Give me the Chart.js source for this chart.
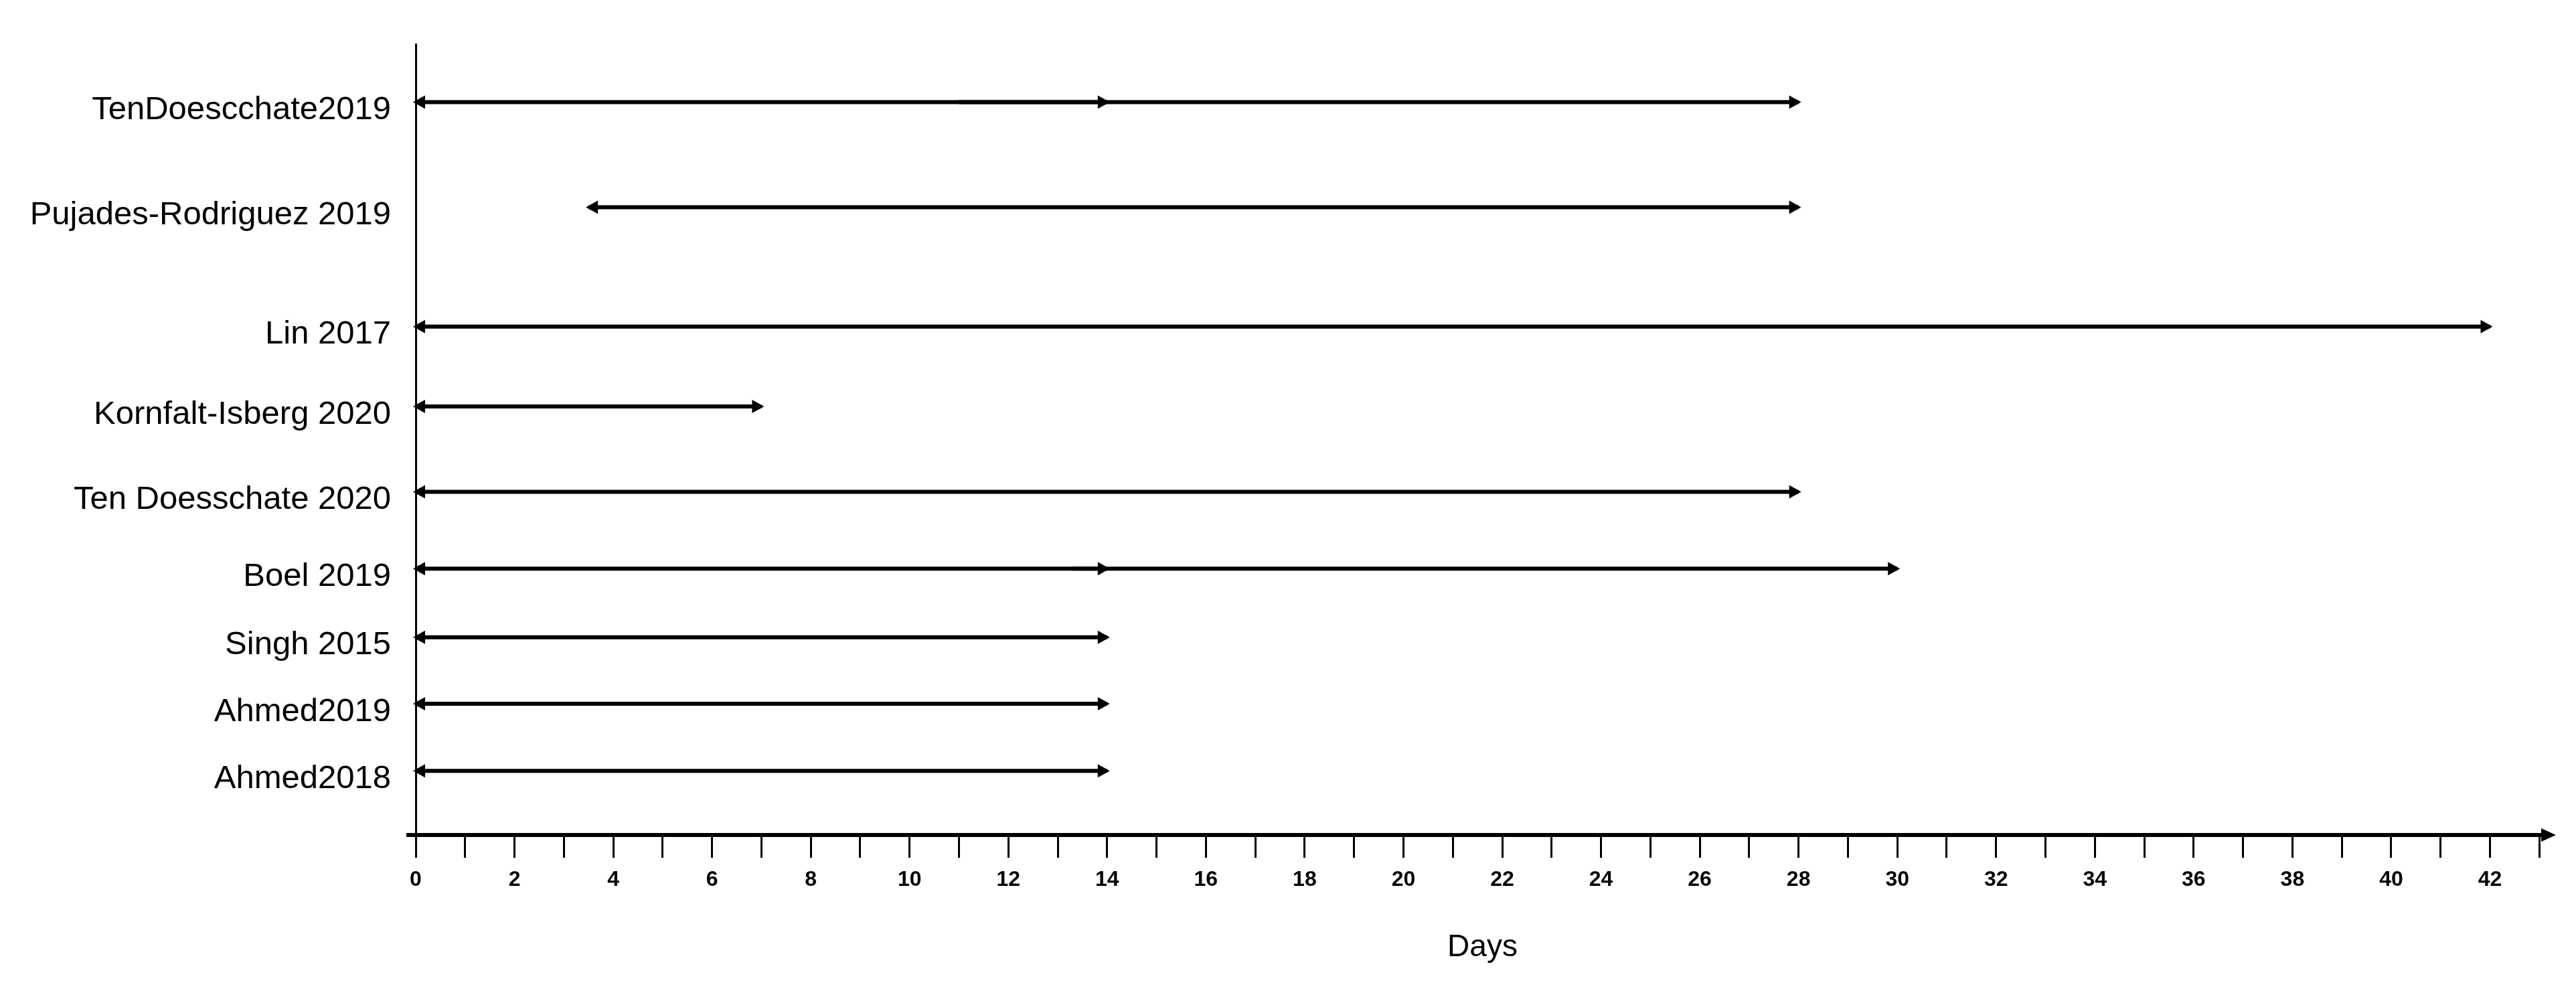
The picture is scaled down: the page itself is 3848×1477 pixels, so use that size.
<!DOCTYPE html>
<html>
<head>
<meta charset="utf-8">
<script src="https://cdn.jsdelivr.net/npm/chart.js@4"></script>
<style>
  html, body { margin: 0; padding: 0; background: #fff; }
  #wrap { width: 3848px; height: 1477px; }
</style>
</head>
<body>
<div id="wrap"><canvas id="chart" width="3848" height="1477"></canvas></div>
<script>
// study names, top to bottom
const studies = [
  "TenDoescchate2019", "Pujades-Rodriguez 2019", "Lin 2017", "Kornfalt-Isberg 2020",
  "Ten Doesschate 2020", "Boel 2019", "Singh 2015", "Ahmed2019", "Ahmed2018"
];
// vertical position of each row (rows are not evenly spaced in the original)
const rowPos = [9.27, 7.94, 6.43, 5.42, 4.34, 3.37, 2.50, 1.66, 0.81];

// follow-up windows in days: first window per study
const startDay = [0, 3.5, 0, 0, 0, 0, 0, 0, 0];
const endDay = [14, 28, 42, 7, 28, 14, 14, 14, 14];
// second (later) window, null when none
const start2 = [11, null, null, null, null, 13.3, null, null, null];
const end2 = [28, null, null, null, null, 30, null, null, null];

const xTicks = [0, 2, 4, 6, 8, 10, 12, 14, 16, 18, 20, 22, 24, 26, 28, 30, 32, 34, 36, 38, 40, 42];

/* =========================
   DATASETS
========================= */
const datasets = [];
studies.forEach((s, i) => {
  datasets.push({
    label: s,
    data: [{ x: startDay[i], y: rowPos[i] }, { x: endDay[i], y: rowPos[i] }],
    both: true,
  });
  if (start2[i] !== null) {
    datasets.push({
      label: s + " (2)",
      data: [{ x: start2[i], y: rowPos[i] }, { x: end2[i], y: rowPos[i] }],
      both: false,
    });
  }
});
datasets.forEach((d) => {
  d.borderColor = "#000";
  d.borderWidth = 6;
  d.pointRadius = 0;
  d.showLine = true;
});

/* =========================
   ARROWS
========================= */
function head(ctx, x, y, dir, len, half) {
  ctx.beginPath();
  ctx.moveTo(x, y);
  ctx.lineTo(x - dir * len, y - half);
  ctx.lineTo(x - dir * len, y + half);
  ctx.closePath();
  ctx.fill();
}

const arrowPlugin = {
  id: "arrows",
  afterDatasetsDraw(chart) {
    const ctx = chart.ctx;
    ctx.save();
    ctx.fillStyle = "#000";
    chart.data.datasets.forEach((d, i) => {
      const pts = chart.getDatasetMeta(i).data;
      head(ctx, pts[1].x + 4, pts[1].y, 1, 18, 10);
      if (d.both) head(ctx, pts[0].x - 4, pts[0].y, -1, 18, 10);
    });
    // axis arrow at the right end of the x axis
    const xs = chart.scales.x;
    const y0 = chart.scales.y.getPixelForValue(0);
    ctx.strokeStyle = "#000";
    ctx.lineWidth = 6;
    ctx.beginPath();
    ctx.moveTo(xs.left - 14, y0);
    ctx.lineTo(xs.right - 10, y0);
    ctx.stroke();
    head(ctx, xs.right + 10, y0, 1, 22, 10);
    ctx.restore();
  },
};

/* =========================
   CHART
========================= */
new Chart(document.getElementById("chart").getContext("2d"), {
  type: "scatter",
  data: { datasets },
  plugins: [arrowPlugin],
  options: {
    responsive: false,
    animation: false,
    layout: { padding: { top: 0, right: 40, left: 0, bottom: 0 } },
    plugins: { legend: { display: false }, tooltip: { enabled: false } },
    scales: {
      x: {
        type: "linear",
        min: 0,
        max: 43.2,
        afterFit: (s) => { s.height = 230; },
        afterBuildTicks: (s) => {
          s.ticks = [];
          for (let v = 0; v <= 43; v++) s.ticks.push({ value: v });
        },
        grid: { drawOnChartArea: false, tickLength: 34, tickColor: "#000", lineWidth: 3 },
        border: { display: false },
        ticks: {
          autoSkip: false,
          maxRotation: 0,
          padding: 14,
          color: "#000",
          font: { family: "Liberation Sans", size: 32, weight: "bold" },
          callback: (v) => (xTicks.includes(v) ? String(v) : ""),
        },
        title: {
          display: true,
          text: "Days",
          color: "#000",
          font: { family: "Liberation Sans", size: 46 },
          padding: { top: 0, bottom: 34 },
        },
      },
      y: {
        type: "linear",
        min: 0,
        max: 10,
        afterFit: (s) => { s.width = 621; },
        afterBuildTicks: (s) => { s.ticks = rowPos.map((v) => ({ value: v })); },
        grid: { display: false, drawTicks: false },
        border: { display: true, color: "#000", width: 3 },
        ticks: {
          padding: 37,
          labelOffset: 12,
          color: "#000",
          font: { family: "Liberation Sans", size: 49 },
          callback: (v) => studies[rowPos.indexOf(v)] || "",
        },
      },
    },
  },
});
</script>
</body>
</html>
